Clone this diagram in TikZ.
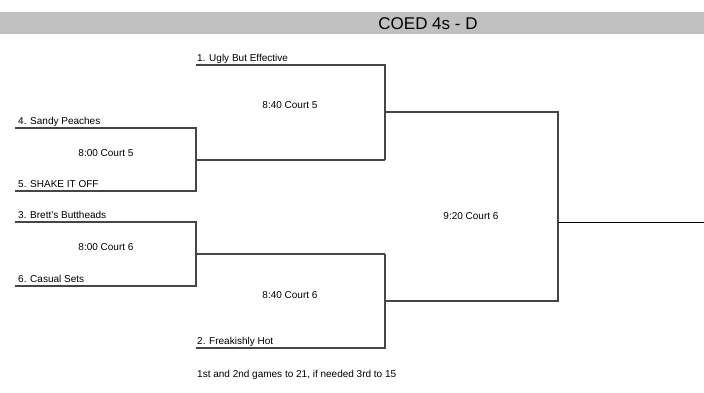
\documentclass[tikz,border=0pt]{standalone}
\usepackage{fontspec}
\setmainfont{Liberation Sans}
\usetikzlibrary{positioning,calc}
\definecolor{HeadGray}{RGB}{192,192,192}
\definecolor{LineGray}{RGB}{70,70,70}
\tikzset{
	slot/.style={draw=LineGray,line width=1.2pt},
	team/.style={anchor=base west,inner sep=0pt,font=\fontsize{10}{12}\selectfont},
	court/.style={inner sep=0pt,font=\fontsize{10}{12}\selectfont},
}

\begin{document}
\begin{tikzpicture}[x=1pt,y=-1pt]
	\useasboundingbox (0,0) rectangle (704,392);
	% header
	\fill[HeadGray] (0,12) rectangle (704,34);
	\node[font=\fontsize{17}{20}\selectfont] (title) at (428,23.5) {COED 4s - D};
	% first round
	\coordinate (a1) at (15,128);
	\coordinate (a2) at (196,128);
	\coordinate (a3) at (196,191);
	\coordinate (a4) at (15,191);
	\coordinate (aout) at (196,160);
	\coordinate (b1) at (15,222);
	\coordinate (b2) at (196,222);
	\coordinate (b3) at (196,286);
	\coordinate (b4) at (15,286);
	\coordinate (bout) at (196,254);
	% second round
	\coordinate (c1) at (196,65);
	\coordinate (c2) at (385,65);
	\coordinate (c3) at (385,160);
	\coordinate (cout) at (385,112);
	\coordinate (d1) at (196,348);
	\coordinate (d2) at (385,348);
	\coordinate (d3) at (385,254);
	\coordinate (dout) at (385,301);
	% final
	\coordinate (e1) at (558,112);
	\coordinate (e2) at (558,301);
	\coordinate (eout) at (558,222);
	\coordinate (win) at (704,222);
	\draw[slot] (a1) -- (a2) -- (a3) -- (a4);
	\draw[slot] (b1) -- (b2) -- (b3) -- (b4);
	\draw[slot] (aout) -- (c3);
	\draw[slot] (bout) -- (d3);
	\draw[slot] (c1) -- (c2) -- (c3);
	\draw[slot] (d1) -- (d2) -- (d3);
	\draw[slot] (cout) -- (e1) -- (e2) -- (dout);
	\draw[draw=black,line width=1pt] (eout) -- (win);
	% teams
	\node[team] (t1) at (197,61) {1. Ugly But Effective};
	\node[team] (t4) at (18,124) {4. Sandy Peaches};
	\node[team] (t5) at (18,187) {5. SHAKE IT OFF};
	\node[team] (t3) at (18,218) {3. Brett's Buttheads};
	\node[team] (t6) at (18,282) {6. Casual Sets};
	\node[team] (t2) at (197,344) {2. Freakishly Hot};
	% games
	\node[court] (g1) at (106,153) {8:00 Court 5};
	\node[court] (g2) at (106,247) {8:00 Court 6};
	\node[court] (g3) at (290,105) {8:40 Court 5};
	\node[court] (g4) at (290,295) {8:40 Court 6};
	\node[court] (g5) at (471,216) {9:20 Court 6};
	\node[team] (note) at (197,377) {1st and 2nd games to 21, if needed 3rd to 15};
\end{tikzpicture}
\end{document}
